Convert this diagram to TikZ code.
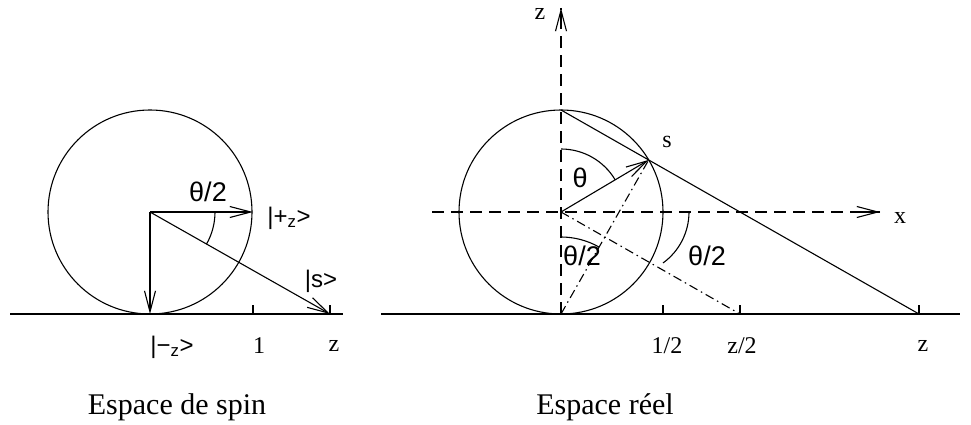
\documentclass[tikz,border=0pt]{standalone}
\usepackage{fontspec}
\setmainfont{Liberation Serif}
\newfontfamily\hv{Liberation Sans}
\usetikzlibrary{arrows.meta,calc}
\begin{document}
\begin{tikzpicture}[x=1pt,y=-1pt,
  ln/.style={line width=1.1pt},
  arr/.style={ln,-{Straight Barb[length=21pt,width=11pt,line width=1.1pt]}},
  dsh/.style={ln,dash pattern=on 12pt off 7pt},
  ddot/.style={ln,dash pattern=on 9pt off 4pt on 1.5pt off 4pt},
  lbl/.style={inner sep=0pt,font=\fontsize{24}{28}\selectfont},
  slbl/.style={inner sep=0pt,font=\hv\fontsize{24}{28}\selectfont},
  thl/.style={inner sep=0pt,font=\hv\fontsize{27}{30}\selectfont},
  ttl/.style={inner sep=0pt,font=\fontsize{30}{34}\selectfont}]
\useasboundingbox (0,0) rectangle (971,425);
% ---------- left: spin space ----------
\coordinate (O1) at (150,212);
\coordinate (P1) at (253,212);
\coordinate (M1) at (150,314);
\coordinate (Z1) at (330,314);
\coordinate (U1) at (253,314);
\coordinate (A1) at (10,314);
\coordinate (B1) at (343,314);
\draw[ln] (O1) circle[radius=102];
\draw[ln] (A1) -- (B1);
\draw[ln] (U1) -- ++(0,-9);
\draw[ln] (Z1) -- ++(0,-9);
\draw[arr] (O1) -- (P1);
\draw[arr] (O1) -- (M1);
\draw[arr] (O1) -- (Z1);
\draw[ln] (O1) ++(65,0) arc[start angle=0,end angle=29.5,radius=65];
\node[thl] (th1) at (208,192) {θ/2};
\node[slbl] (plus) at (289,218) {|+\textsubscript{z}>};
\node[slbl] (sk) at (321,281) {|s>};
\node[slbl] (minus) at (172,347) {|−\textsubscript{z}>};
\node[lbl] (one) at (259,346) {1};
\node[lbl] (zl) at (334,346) {z};
\node[ttl] (t1) at (177,407) {Espace de spin};
% ---------- right: real space ----------
\coordinate (O2) at (561,212);
\coordinate (T2) at (561,110);
\coordinate (S2) at ($(O2)+(-30.7:102)$);
\coordinate (D2) at (561,314);
\coordinate (H2) at (663,314);
\coordinate (Q2) at (740,314);
\coordinate (Z2) at (919,314);
\coordinate (A2) at (381,314);
\coordinate (B2) at (960,314);
\coordinate (ZT) at (561,8);
\coordinate (XL) at (432,212);
\coordinate (XR) at (880,212);
\draw[ln] (O2) circle[radius=102];
\draw[ln] (A2) -- (B2);
\draw[ln] (H2) -- ++(0,-9);
\draw[ln] (Q2) -- ++(0,-9);
\draw[ln] (Z2) -- ++(0,-9);
\draw[dsh] (D2) -- (ZT);
\draw[ln,-{Straight Barb[length=21pt,width=11pt,line width=1.1pt]}] ($(ZT)+(0,21)$) -- (ZT);
\draw[dsh] (XL) -- (XR);
\draw[ln,-{Straight Barb[length=21pt,width=11pt,line width=1.1pt]}] ($(XR)+(-21,0)$) -- (XR);
\draw[ln] (T2) -- (Z2);
\draw[arr] (O2) -- (S2);
\draw[ddot] (D2) -- (S2);
\draw[ddot] (O2) -- (Q2);
\draw[ln] (O2) ++(-90:63) arc[start angle=-90,end angle=-30.7,radius=63];
\draw[ln] (D2) ++(-90:77) arc[start angle=-90,end angle=-60.5,radius=77];
\draw[ln] (689,212) arc[start angle=0,end angle=54,radius=63];
\node[thl] (th) at (580,178) {θ};
\node[thl] (th2) at (582,256) {θ/2};
\node[thl] (th3) at (707,256) {θ/2};
\node[lbl] (sl) at (667,142) {s};
\node[lbl] (zax) at (540,14) {z};
\node[lbl] (xax) at (900,218) {x};
\node[lbl] (half) at (667,346) {1/2};
\node[lbl] (zh) at (742,346) {z/2};
\node[lbl] (zr) at (923,346) {z};
\node[ttl] (t2) at (605,407) {Espace réel};
\end{tikzpicture}
\end{document}
